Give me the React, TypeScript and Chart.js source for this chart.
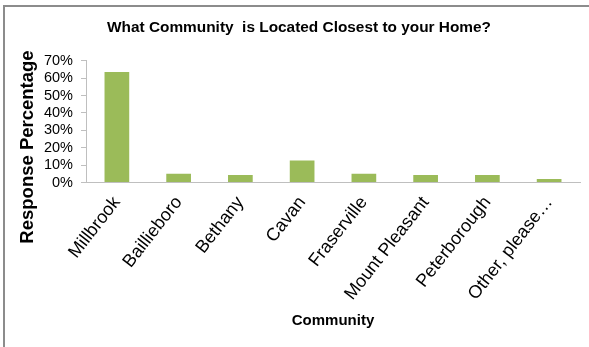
import React, { useEffect, useRef } from "react";
import { Chart, registerables } from "chart.js";

Chart.register(...registerables);

const categories = [
  "Millbrook",
  "Baillieboro",
  "Bethany",
  "Cavan",
  "Fraserville",
  "Mount Pleasant",
  "Peterborough",
  "Other, please…",
];
const responsePercent = [63.6, 5.0, 4.3, 12.7, 5.0, 4.3, 4.3, 2.0];
const yTicks = [0, 10, 20, 30, 40, 50, 60, 70];

const chartTitle = "What Community  is Located Closest to your Home?";
const xTitle = "Community";
const yTitle = "Response Percentage";

const SANS = "'Liberation Sans', Arial, sans-serif";

const yTitlePlugin = {
  id: "yTitlePlugin",
  afterDraw(chart: any) {
    const ctx = chart.ctx;
    ctx.save();
    ctx.translate(28, 147);
    ctx.rotate(-Math.PI / 2);
    ctx.font = `bold 18.5px ${SANS}`;
    ctx.fillStyle = "#000";
    ctx.textAlign = "center";
    ctx.textBaseline = "middle";
    ctx.fillText(yTitle, 0, 0);
    ctx.restore();
  },
};

export default function App() {
  const ref = useRef<HTMLCanvasElement | null>(null);

  useEffect(() => {
    document.body.style.margin = "0";
    const canvas = ref.current;
    if (!canvas) return;
    const chart = new Chart(canvas, {
      type: "bar",
      data: {
        labels: categories,
        datasets: [
          {
            data: responsePercent,
            backgroundColor: "#9bbb59",
            borderColor: "#9bbb59",
            borderWidth: 0,
            categoryPercentage: 1,
            barPercentage: 0.4,
          },
        ],
      },
      plugins: [yTitlePlugin],
      options: {
        responsive: false,
        animation: false,
        layout: { padding: { left: 18, right: 9, top: 0, bottom: 0 } },
        plugins: {
          legend: { display: false },
          tooltip: { enabled: false },
          title: {
            display: true,
            text: chartTitle,
            color: "#000",
            font: { family: SANS, size: 15.4, weight: "bold" },
            padding: { top: 19, bottom: 23.3 },
          },
        },
        scales: {
          x: {
            grid: { display: false },
            border: { display: true, color: "#bfbfbf", width: 1 },
            ticks: {
              color: "#000",
              font: { family: SANS, size: 18 },
              minRotation: 52,
              maxRotation: 52,
              autoSkip: false,
              padding: 2,
            },
            title: {
              display: true,
              text: xTitle,
              color: "#000",
              font: { family: SANS, size: 15, weight: "bold" },
              padding: { top: 0, bottom: 17 },
            },
            afterFit: (scale: any) => {
              scale.height = 164.5;
            },
          },
          y: {
            min: 0,
            max: 70,
            afterBuildTicks: (scale: any) => {
              scale.ticks = yTicks.map((v) => ({ value: v }));
            },
            grid: {
              display: true,
              drawOnChartArea: false,
              drawTicks: true,
              tickLength: 5,
              color: "#bfbfbf",
            },
            border: { display: true, color: "#bfbfbf", width: 1 },
            ticks: {
              color: "#000",
              font: { family: SANS, size: 14.5 },
              padding: 8,
              autoSkip: false,
              callback: (v: any) => v + "%",
            },
            afterFit: (scale: any) => {
              scale.width = 68;
            },
          },
        },
      },
    });
    return () => chart.destroy();
  }, []);

  return (
    <div style={{ position: "relative", width: 589, height: 347, background: "#fff" }}>
      <div
        style={{
          position: "absolute",
          left: 3,
          top: 5,
          right: 0,
          bottom: 0,
          borderLeft: "2px solid #8c8c8c",
          borderTop: "2px solid #8c8c8c",
        }}
      />
      <canvas
        ref={ref}
        width={589}
        height={347}
        style={{ position: "absolute", left: 0, top: 0, width: 589, height: 347 }}
      />
    </div>
  );
}
